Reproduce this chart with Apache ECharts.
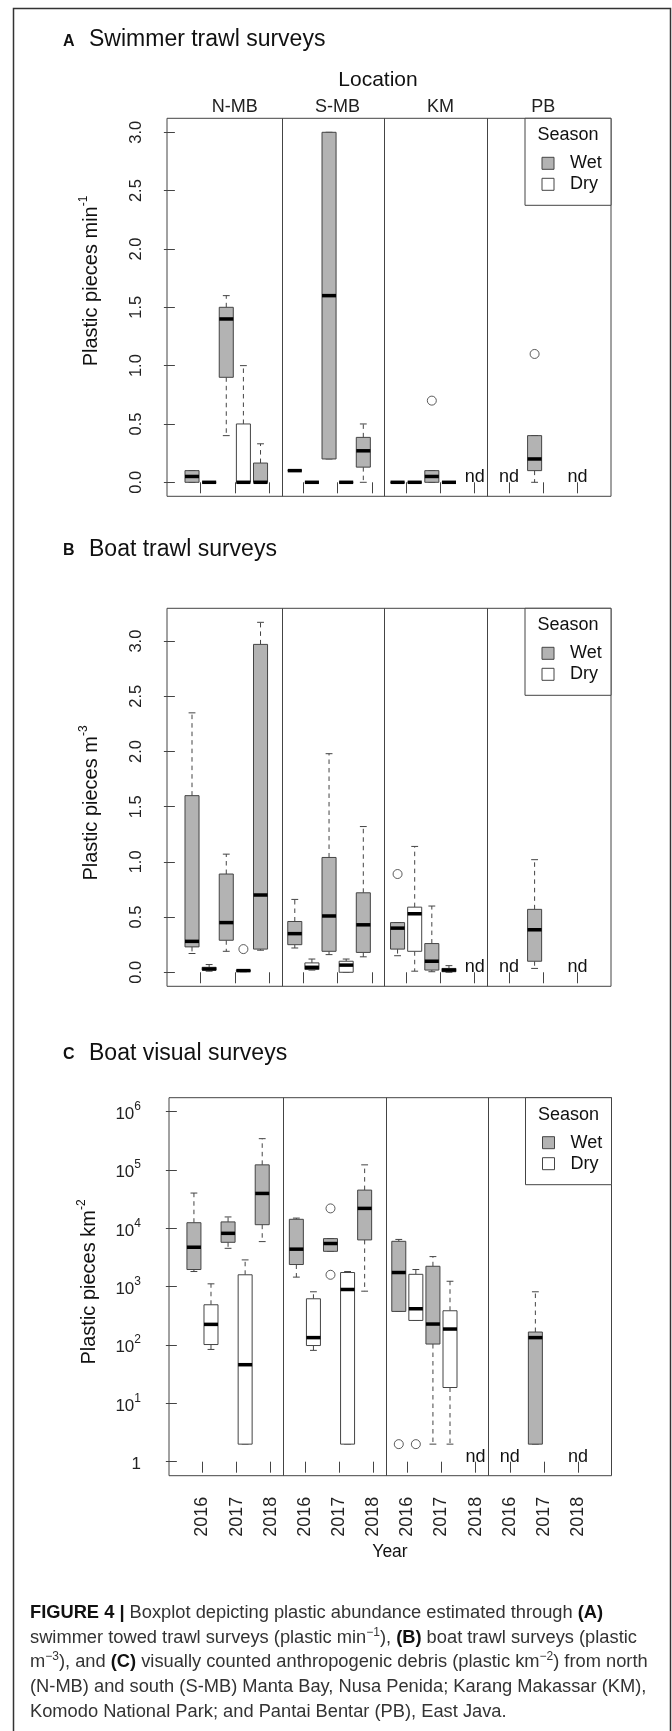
<!DOCTYPE html>
<html>
<head>
<meta charset="utf-8">
<script src="https://cdn.jsdelivr.net/npm/echarts@6/dist/echarts.min.js"></script>
<style>
html,body{margin:0;padding:0;background:#fff;}
#chart{width:672px;height:1731px;}
</style>
</head>
<body>
<div id="chart"></div>
<script>
// ---------------- DATA ----------------
const locations = ['N-MB', 'S-MB', 'KM', 'PB'];
const years = ['2016', '2017', '2018'];
const seasons = ['Wet', 'Dry'];
const linearTicks = [0, 0.5, 1, 1.5, 2, 2.5, 3];
const logTicks = [1, 10, 100, 1000, 10000, 100000, 1000000];

// [location, year, season, lower whisker, Q1, median, Q3, upper whisker]
const swimStats = [
  ['N-MB', '2016', 'Wet', 0, 0, 0.05, 0.1, 0.1],
  ['N-MB', '2016', 'Dry', 0, 0, 0, 0, 0],
  ['N-MB', '2017', 'Wet', 0.4, 0.9, 1.4, 1.5, 1.6],
  ['N-MB', '2017', 'Dry', 0, 0, 0, 0.5, 1.0],
  ['N-MB', '2018', 'Wet', 0, 0, 0, 0.165, 0.33],
  ['S-MB', '2016', 'Wet', 0.1, 0.1, 0.1, 0.1, 0.1],
  ['S-MB', '2016', 'Dry', 0, 0, 0, 0, 0],
  ['S-MB', '2017', 'Wet', 0.2, 0.2, 1.6, 3.0, 3.0],
  ['S-MB', '2017', 'Dry', 0, 0, 0, 0, 0],
  ['S-MB', '2018', 'Wet', 0, 0.13, 0.27, 0.385, 0.5],
  ['KM', '2016', 'Wet', 0, 0, 0, 0, 0],
  ['KM', '2016', 'Dry', 0, 0, 0, 0, 0],
  ['KM', '2017', 'Wet', 0, 0, 0.05, 0.1, 0.1],
  ['KM', '2017', 'Dry', 0, 0, 0, 0, 0],
  ['PB', '2017', 'Wet', 0, 0.1, 0.2, 0.4, 0.4]
];
const swimOutliers = [
  ['KM', '2017', 'Wet', 0.7],
  ['PB', '2017', 'Wet', 1.1]
];

const trawlStats = [
  ['N-MB', '2016', 'Wet', 0.17, 0.23, 0.28, 1.6, 2.35],
  ['N-MB', '2016', 'Dry', 0.01, 0.02, 0.03, 0.045, 0.07],
  ['N-MB', '2017', 'Wet', 0.19, 0.29, 0.45, 0.89, 1.07],
  ['N-MB', '2017', 'Dry', 0.005, 0.008, 0.015, 0.02, 0.02],
  ['N-MB', '2018', 'Wet', 0.2, 0.21, 0.7, 2.97, 3.17],
  ['S-MB', '2016', 'Wet', 0.22, 0.25, 0.35, 0.46, 0.66],
  ['S-MB', '2016', 'Dry', 0.02, 0.025, 0.045, 0.085, 0.12],
  ['S-MB', '2017', 'Wet', 0.16, 0.19, 0.51, 1.04, 1.98],
  ['S-MB', '2017', 'Dry', 0, 0, 0.065, 0.1, 0.12],
  ['S-MB', '2018', 'Wet', 0.14, 0.18, 0.43, 0.72, 1.32],
  ['KM', '2016', 'Wet', 0.15, 0.21, 0.40, 0.45, 0.45],
  ['KM', '2016', 'Dry', 0.01, 0.19, 0.53, 0.59, 1.14],
  ['KM', '2017', 'Wet', 0.005, 0.02, 0.1, 0.26, 0.6],
  ['KM', '2017', 'Dry', 0, 0.005, 0.02, 0.035, 0.06],
  ['PB', '2017', 'Wet', 0.035, 0.1, 0.385, 0.57, 1.02]
];
const trawlOutliers = [
  ['N-MB', '2017', 'Dry', 0.21],
  ['KM', '2016', 'Wet', 0.89]
];

const visualStats = [
  ['N-MB', '2016', 'Wet', 1820, 1970, 4750, 12500, 40300],
  ['N-MB', '2016', 'Dry', 84, 102, 226, 490, 1120],
  ['N-MB', '2017', 'Wet', 4550, 5770, 8220, 12900, 15700],
  ['N-MB', '2017', 'Dry', 2, 2, 46, 1600, 2880],
  ['N-MB', '2018', 'Wet', 5930, 11560, 39700, 122700, 345000],
  ['S-MB', '2016', 'Wet', 1460, 2400, 4400, 14300, 15000],
  ['S-MB', '2016', 'Dry', 81, 98, 134, 621, 818],
  ['S-MB', '2017', 'Wet', 4040, 4040, 5500, 6670, 6670],
  ['S-MB', '2017', 'Dry', 2, 2, 896, 1750, 1820],
  ['S-MB', '2018', 'Wet', 838, 6340, 22000, 45300, 122700],
  ['KM', '2016', 'Wet', 377, 377, 1750, 6000, 6460],
  ['KM', '2016', 'Dry', 264, 264, 419, 1630, 1970],
  ['KM', '2017', 'Wet', 2, 104, 229, 2240, 3280],
  ['KM', '2017', 'Dry', 2, 18.7, 188, 387, 1240],
  ['PB', '2017', 'Wet', 2, 2, 134, 167, 818]
];
const visualOutliers = [
  ['S-MB', '2017', 'Wet', 22000],
  ['S-MB', '2017', 'Wet', 1600],
  ['KM', '2016', 'Wet', 2],
  ['KM', '2016', 'Dry', 2]
];

// location / year combinations with no data ("nd")
const noData = [['KM', '2018'], ['PB', '2016'], ['PB', '2018']];

const panelTitles = ['Swimmer trawl surveys', 'Boat trawl surveys', 'Boat visual surveys'];
const panelLetters = ['A', 'B', 'C'];
const yTitles = [
  'Plastic pieces min{s|-1}',
  'Plastic pieces m{s|-3}',
  'Plastic pieces km{s|-2}'
];
const captionLines = [
  '{b|FIGURE 4 |} Boxplot depicting plastic abundance estimated through {b|(A)}',
  'swimmer towed trawl surveys (plastic min{s|\u22121}), {b|(B)} boat trawl surveys (plastic',
  'm{s|\u22123}), and {b|(C)} visually counted anthropogenic debris (plastic km{s|\u22122}) from north',
  '(N-MB) and south (S-MB) Manta Bay, Nusa Penida; Karang Makassar (KM),',
  'Komodo National Park; and Pantai Bentar (PB), East Java.'
];

// ---------------- LAYOUT ----------------
const FONT = '"Liberation Sans", Arial, Helvetica, sans-serif';
const FRAMES = [[167, 444], [167, 444], [169, 442.5]];
const GRID_TOPS = [118.3, 608.3, 1097.7];
const GRID_H = 378;
const X_MIN = -0.46, X_MAX = 25.46;
const Y_RANGES = [[-0.12, 3.12], [-0.127, 3.297], [-0.24, 6.24]];
const DIVIDERS = [6.25, 12.25, 18.25];
const BOX_HALF = 0.41, CAP_HALF = 0.2;
const WET_FILL = '#b3b3b3', DRY_FILL = '#ffffff', EDGE = '#444444';

function slotOf(loc, year, season) {
  return locations.indexOf(loc) * 6 + years.indexOf(year) * 2 + seasons.indexOf(season) + 1;
}
function tickOf(loc, year) {
  return locations.indexOf(loc) * 6 + years.indexOf(year) * 2 + 1.5;
}
const yearTicks = [];
locations.forEach(l => years.forEach(y => yearTicks.push(tickOf(l, y))));
const locationTicks = locations.map(l => tickOf(l, '2017'));

function renderBox(params, api) {
  const x = api.value(0);
  const lo = api.value(1), q1 = api.value(2), md = api.value(3), q3 = api.value(4), hi = api.value(5);
  const season = api.value(6);
  const c = (xx, yy) => api.coord([xx, yy]);
  const solid = { stroke: EDGE, lineWidth: 1 };
  const dashed = { stroke: EDGE, lineWidth: 1, lineDash: [4.5, 4] };
  const ch = [];
  const seg = (a, b, style) => ({ type: 'line', shape: { x1: a[0], y1: a[1], x2: b[0], y2: b[1] }, style });
  if (hi > q3) ch.push(seg(c(x, q3), c(x, hi), dashed));
  if (lo < q1) ch.push(seg(c(x, q1), c(x, lo), dashed));
  ch.push(seg(c(x - CAP_HALF, hi), c(x + CAP_HALF, hi), solid));
  ch.push(seg(c(x - CAP_HALF, lo), c(x + CAP_HALF, lo), solid));
  const tl = c(x - BOX_HALF, q3), br = c(x + BOX_HALF, q1);
  ch.push({
    type: 'rect',
    shape: { x: tl[0], y: tl[1], width: br[0] - tl[0], height: br[1] - tl[1] },
    style: { fill: season === 0 ? WET_FILL : DRY_FILL, stroke: EDGE, lineWidth: 1 }
  });
  ch.push(seg(c(x - BOX_HALF, md), c(x + BOX_HALF, md), { stroke: '#000', lineWidth: 3.5 }));
  return { type: 'group', children: ch };
}

function renderNd(params, api) {
  const p = api.coord([api.value(0), api.value(1)]);
  return {
    type: 'text', x: p[0], y: p[1] - 5,
    style: { text: 'nd', fontSize: 18, fontFamily: FONT, fill: '#111', align: 'center', verticalAlign: 'middle' }
  };
}

const panels = [
  { stats: swimStats, outliers: swimOutliers, log: false },
  { stats: trawlStats, outliers: trawlOutliers, log: false },
  { stats: visualStats, outliers: visualOutliers, log: true }
];

const grid = GRID_TOPS.map((t, i) => ({
  left: FRAMES[i][0], width: FRAMES[i][1], top: t, height: GRID_H,
  show: true, borderColor: EDGE, borderWidth: 1, backgroundColor: 'transparent'
}));

const tickStyle = { show: true, length: 11, lineStyle: { color: EDGE, width: 1 } };
function bottomAxis(gi, withLabels) {
  return {
    gridIndex: gi, type: 'value', min: X_MIN, max: X_MAX, position: 'bottom',
    axisLine: { show: false }, splitLine: { show: false },
    axisTick: Object.assign({ customValues: yearTicks }, tickStyle),
    axisLabel: withLabels ? {
      show: true, customValues: yearTicks, rotate: 90, margin: 21, fontSize: 18,
      fontFamily: FONT, color: '#222',
      formatter: v => years[Math.round((v - 1.5) / 2) % 3]
    } : { show: false }
  };
}
const xAxis = [
  bottomAxis(0, false),
  {
    gridIndex: 0, type: 'value', min: X_MIN, max: X_MAX, position: 'top',
    axisLine: { show: false }, splitLine: { show: false }, axisTick: { show: false },
    axisLabel: {
      show: true, customValues: locationTicks, margin: 2, fontSize: 18, fontFamily: FONT, color: '#222',
      formatter: v => locations[Math.round((v - 3.5) / 6)]
    }
  },
  bottomAxis(1, false),
  bottomAxis(2, true)
];
const xIndexOfPanel = [0, 2, 3];

const yAxis = panels.map((p, i) => {
  const ticks = p.log ? logTicks.map(v => Math.log10(v)) : linearTicks;
  return {
    gridIndex: i, type: 'value', min: Y_RANGES[i][0], max: Y_RANGES[i][1],
    axisLine: { show: false }, splitLine: { show: false },
    axisTick: Object.assign({ customValues: ticks }, tickStyle),
    axisLabel: p.log ? {
      customValues: ticks, margin: 28, fontSize: 17, fontFamily: FONT, color: '#222',
      formatter: v => { const e = Math.round(v); return e === 0 ? '{b|1}' : '{b|10}{s|' + e + '}'; },
      rich: {
        b: { fontSize: 17, lineHeight: 22, fontFamily: FONT, color: '#222', verticalAlign: 'bottom' },
        s: { fontSize: 12, lineHeight: 13, fontFamily: FONT, color: '#222', verticalAlign: 'top' }
      }
    } : {
      customValues: ticks, rotate: 90, margin: 22, fontSize: 16.5, fontFamily: FONT, color: '#222',
      formatter: v => v.toFixed(1)
    }
  };
});

const series = [];
panels.forEach((p, i) => {
  const tf = v => p.log ? Math.log10(v) : v;
  series.push({
    type: 'custom', name: 'boxes' + i,
    xAxisIndex: xIndexOfPanel[i], yAxisIndex: i,
    renderItem: renderBox,
    encode: { x: 0, y: [1, 2, 3, 4, 5] },
    data: p.stats.map(r => [slotOf(r[0], r[1], r[2]), tf(r[3]), tf(r[4]), tf(r[5]), tf(r[6]), tf(r[7]), seasons.indexOf(r[2])]),
    markLine: {
      silent: true, symbol: ['none', 'none'], label: { show: false },
      lineStyle: { color: EDGE, width: 1, type: 'solid' },
      emphasis: { disabled: true },
      data: DIVIDERS.map(v => ({ xAxis: v }))
    },
    z: 3
  });
  series.push({
    type: 'scatter', name: 'outliers' + i,
    xAxisIndex: xIndexOfPanel[i], yAxisIndex: i,
    symbol: 'circle', symbolSize: 9,
    itemStyle: { color: 'rgba(0,0,0,0)', borderColor: '#333', borderWidth: 1 },
    data: p.outliers.map(o => [slotOf(o[0], o[1], o[2]), tf(o[3])]),
    z: 4
  });
  series.push({
    type: 'custom', name: 'nd' + i,
    xAxisIndex: xIndexOfPanel[i], yAxisIndex: i,
    renderItem: renderNd,
    encode: { x: 0, y: 1 },
    data: noData.map(d => [tickOf(d[0], d[1]), 0]),
    z: 4
  });
});

// ---------------- GRAPHIC (titles, legends, caption) ----------------
const graphic = [];
graphic.push({
  type: 'rect', shape: { x: 13.5, y: 8.5, width: 657, height: 1730 },
  style: { fill: 'none', stroke: '#333', lineWidth: 1.5 }, silent: true
});
const titleY = [40, 549.3, 1053.3];
panels.forEach((p, i) => {
  graphic.push({ type: 'text', x: 63, y: titleY[i] + 1.5,
    style: { text: panelLetters[i], fontSize: 16, fontWeight: 'bold', fontFamily: FONT, fill: '#111', align: 'left', verticalAlign: 'middle' } });
  graphic.push({ type: 'text', x: 89, y: titleY[i],
    style: { text: panelTitles[i], fontSize: 23, fontFamily: FONT, fill: '#111', align: 'left', verticalAlign: 'middle' } });
});
const yTitlePos = [[91, 281], [91, 803], [89, 1282]];
yTitles.forEach((t, i) => {
  graphic.push({ type: 'text', x: yTitlePos[i][0], y: yTitlePos[i][1], rotation: Math.PI / 2,
    style: { text: t, fontSize: 20, lineHeight: 26, fontFamily: FONT, fill: '#111', align: 'center', verticalAlign: 'middle',
      rich: { s: { fontSize: 12, lineHeight: 14, fontFamily: FONT, fill: '#111', verticalAlign: 'top' } } } });
});
// legends
GRID_TOPS.forEach((top, i) => {
  const rx = FRAMES[i][0] + FRAMES[i][1];
  const lx = rx - 86;
  graphic.push({ type: 'rect', shape: { x: lx, y: top, width: rx - lx, height: 87 },
    style: { fill: '#fff', stroke: EDGE, lineWidth: 1 }, z: 50 });
  graphic.push({ type: 'text', x: lx + 43, y: top + 17, z: 51,
    style: { text: 'Season', fontSize: 18, fontFamily: FONT, fill: '#111', align: 'center', verticalAlign: 'middle' } });
  seasons.forEach((s, k) => {
    const cy = top + 45 + k * 21;
    graphic.push({ type: 'rect', shape: { x: lx + 17, y: cy - 6, width: 12, height: 12 }, z: 51,
      style: { fill: k === 0 ? WET_FILL : DRY_FILL, stroke: EDGE, lineWidth: 1 } });
    graphic.push({ type: 'text', x: lx + 45, y: cy, z: 51,
      style: { text: s, fontSize: 18, fontFamily: FONT, fill: '#111', align: 'left', verticalAlign: 'middle' } });
  });
});
graphic.push({ type: 'text', x: 378, y: 80,
  style: { text: 'Location', fontSize: 21, fontFamily: FONT, fill: '#111', align: 'center', verticalAlign: 'middle' } });
graphic.push({ type: 'text', x: 390, y: 1552,
  style: { text: 'Year', fontSize: 17.5, fontFamily: FONT, fill: '#111', align: 'center', verticalAlign: 'middle' } });
captionLines.forEach((t, i) => {
  graphic.push({ type: 'text', x: 30, y: 1613 + i * 24.7,
    style: { text: t, fontSize: 18.3, lineHeight: 23, fontFamily: FONT, fill: '#333', align: 'left', verticalAlign: 'middle',
      rich: {
        b: { fontSize: 18.3, lineHeight: 23, fontWeight: 'bold', fontFamily: FONT, fill: '#111' },
        s: { fontSize: 12, lineHeight: 12, fontFamily: FONT, fill: '#333', verticalAlign: 'top' }
      } } });
});

const chart = echarts.init(document.getElementById('chart'), null, { renderer: 'canvas', width: 672, height: 1731 });
chart.setOption({
  animation: false,
  backgroundColor: '#fff',
  textStyle: { fontFamily: FONT },
  grid, xAxis, yAxis, series, graphic
});
</script>
</body>
</html>
